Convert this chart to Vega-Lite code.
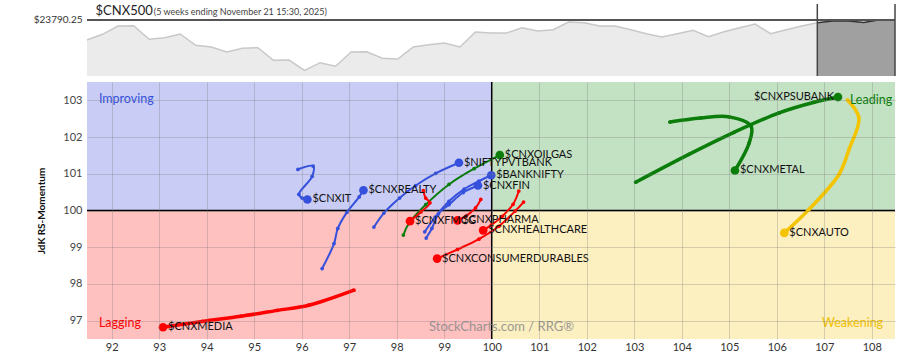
{
  "$schema": "https://vega.github.io/schema/vega-lite/v6.json",
  "padding": {"left": 33, "top": 3, "right": 8, "bottom": 0},
  "spacing": 6,
  "bounds": "flush",
  "config": {"view": {"stroke": null}, "font": "Lato", "axis": {"labelFont": "Lato", "titleFont": "Lato"}},
  "datasets": {
    "strip": [
      {"i": 0, "v": 22590}, {"i": 1, "v": 22932}, {"i": 2, "v": 23430}, {"i": 3, "v": 23448}, {"i": 4, "v": 22632},
      {"i": 5, "v": 22728}, {"i": 6, "v": 22950}, {"i": 7, "v": 22272}, {"i": 8, "v": 22170}, {"i": 9, "v": 21870},
      {"i": 10, "v": 22092}, {"i": 11, "v": 22128}, {"i": 12, "v": 21372}, {"i": 13, "v": 21390}, {"i": 14, "v": 20772},
      {"i": 15, "v": 21228}, {"i": 16, "v": 21012}, {"i": 17, "v": 21870}, {"i": 18, "v": 21888}, {"i": 19, "v": 21492},
      {"i": 20, "v": 21450}, {"i": 21, "v": 22170}, {"i": 22, "v": 22308}, {"i": 23, "v": 22410}, {"i": 24, "v": 22170},
      {"i": 25, "v": 23070}, {"i": 26, "v": 23010}, {"i": 27, "v": 23010}, {"i": 28, "v": 23328}, {"i": 29, "v": 23130},
      {"i": 30, "v": 23208}, {"i": 31, "v": 23670}, {"i": 32, "v": 23628}, {"i": 33, "v": 23430}, {"i": 34, "v": 23430},
      {"i": 35, "v": 23208}, {"i": 36, "v": 22968}, {"i": 37, "v": 22770}, {"i": 38, "v": 22968}, {"i": 39, "v": 23172},
      {"i": 40, "v": 22788}, {"i": 41, "v": 23088}, {"i": 42, "v": 23328}, {"i": 43, "v": 23550}, {"i": 44, "v": 22968},
      {"i": 45, "v": 23208}, {"i": 46, "v": 23430}, {"i": 47, "v": 23628}, {"i": 48, "v": 23730}, {"i": 49, "v": 23730},
      {"i": 50, "v": 23640}, {"i": 51, "v": 23800}, {"i": 52, "v": 23790.25}
    ],
    "rrg": [
      {"s": "$CNXIT", "q": "Improving", "t": 0, "x": 95.92, "y": 101.12},
      {"s": "$CNXIT", "q": "Improving", "t": 1, "x": 96.24, "y": 101.21},
      {"s": "$CNXIT", "q": "Improving", "t": 2, "x": 96.22, "y": 100.93},
      {"s": "$CNXIT", "q": "Improving", "t": 3, "x": 95.94, "y": 100.44},
      {"s": "$CNXIT", "q": "Improving", "t": 4, "x": 96.01, "y": 100.34},
      {"s": "$CNXIT", "q": "Improving", "t": 5, "x": 96.12, "y": 100.30},
      {"s": "$CNXREALTY", "q": "Improving", "t": 0, "x": 96.43, "y": 98.42},
      {"s": "$CNXREALTY", "q": "Improving", "t": 1, "x": 96.68, "y": 99.10},
      {"s": "$CNXREALTY", "q": "Improving", "t": 2, "x": 96.76, "y": 99.51},
      {"s": "$CNXREALTY", "q": "Improving", "t": 3, "x": 96.95, "y": 99.95},
      {"s": "$CNXREALTY", "q": "Improving", "t": 4, "x": 97.21, "y": 100.37},
      {"s": "$CNXREALTY", "q": "Improving", "t": 5, "x": 97.30, "y": 100.55},
      {"s": "$NIFTYPVTBANK", "q": "Improving", "t": 0, "x": 97.52, "y": 99.55},
      {"s": "$NIFTYPVTBANK", "q": "Improving", "t": 1, "x": 97.73, "y": 99.93},
      {"s": "$NIFTYPVTBANK", "q": "Improving", "t": 2, "x": 98.06, "y": 100.34},
      {"s": "$NIFTYPVTBANK", "q": "Improving", "t": 3, "x": 98.40, "y": 100.68},
      {"s": "$NIFTYPVTBANK", "q": "Improving", "t": 4, "x": 98.82, "y": 101.01},
      {"s": "$NIFTYPVTBANK", "q": "Improving", "t": 5, "x": 99.31, "y": 101.30},
      {"s": "$CNXOILGAS", "q": "Leading", "t": 0, "x": 98.14, "y": 99.33},
      {"s": "$CNXOILGAS", "q": "Leading", "t": 1, "x": 98.26, "y": 99.66},
      {"s": "$CNXOILGAS", "q": "Leading", "t": 2, "x": 98.61, "y": 100.16},
      {"s": "$CNXOILGAS", "q": "Leading", "t": 3, "x": 99.10, "y": 100.71},
      {"s": "$CNXOILGAS", "q": "Leading", "t": 4, "x": 99.63, "y": 101.14},
      {"s": "$CNXOILGAS", "q": "Leading", "t": 5, "x": 100.17, "y": 101.51},
      {"s": "$BANKNIFTY", "q": "Improving", "t": 0, "x": 98.59, "y": 99.42},
      {"s": "$BANKNIFTY", "q": "Improving", "t": 1, "x": 98.81, "y": 99.82},
      {"s": "$BANKNIFTY", "q": "Improving", "t": 2, "x": 99.10, "y": 100.25},
      {"s": "$BANKNIFTY", "q": "Improving", "t": 3, "x": 99.42, "y": 100.58},
      {"s": "$BANKNIFTY", "q": "Improving", "t": 4, "x": 99.73, "y": 100.80},
      {"s": "$BANKNIFTY", "q": "Improving", "t": 5, "x": 99.99, "y": 100.96},
      {"s": "$CNXFIN", "q": "Improving", "t": 0, "x": 98.62, "y": 99.25},
      {"s": "$CNXFIN", "q": "Improving", "t": 1, "x": 98.74, "y": 99.51},
      {"s": "$CNXFIN", "q": "Improving", "t": 2, "x": 98.88, "y": 99.91},
      {"s": "$CNXFIN", "q": "Improving", "t": 3, "x": 99.10, "y": 100.16},
      {"s": "$CNXFIN", "q": "Improving", "t": 4, "x": 99.40, "y": 100.49},
      {"s": "$CNXFIN", "q": "Improving", "t": 5, "x": 99.71, "y": 100.68},
      {"s": "$CNXFMCG", "q": "Lagging", "t": 0, "x": 98.56, "y": 100.54},
      {"s": "$CNXFMCG", "q": "Lagging", "t": 1, "x": 98.61, "y": 100.34},
      {"s": "$CNXFMCG", "q": "Lagging", "t": 2, "x": 98.70, "y": 100.21},
      {"s": "$CNXFMCG", "q": "Lagging", "t": 3, "x": 98.51, "y": 99.96},
      {"s": "$CNXFMCG", "q": "Lagging", "t": 4, "x": 98.28, "y": 99.71},
      {"s": "$CNXPHARMA", "q": "Lagging", "t": 0, "x": 99.77, "y": 100.30},
      {"s": "$CNXPHARMA", "q": "Lagging", "t": 1, "x": 99.66, "y": 100.07},
      {"s": "$CNXPHARMA", "q": "Lagging", "t": 2, "x": 99.45, "y": 99.84},
      {"s": "$CNXPHARMA", "q": "Lagging", "t": 3, "x": 99.28, "y": 99.73},
      {"s": "$CNXHEALTHCARE", "q": "Lagging", "t": 0, "x": 100.57, "y": 100.53},
      {"s": "$CNXHEALTHCARE", "q": "Lagging", "t": 1, "x": 100.45, "y": 100.17},
      {"s": "$CNXHEALTHCARE", "q": "Lagging", "t": 2, "x": 100.22, "y": 99.84},
      {"s": "$CNXHEALTHCARE", "q": "Lagging", "t": 3, "x": 99.99, "y": 99.60},
      {"s": "$CNXHEALTHCARE", "q": "Lagging", "t": 4, "x": 99.82, "y": 99.46},
      {"s": "$CNXCONSUMERDURABLES", "q": "Lagging", "t": 0, "x": 100.67, "y": 100.23},
      {"s": "$CNXCONSUMERDURABLES", "q": "Lagging", "t": 1, "x": 100.49, "y": 99.98},
      {"s": "$CNXCONSUMERDURABLES", "q": "Lagging", "t": 2, "x": 100.15, "y": 99.57},
      {"s": "$CNXCONSUMERDURABLES", "q": "Lagging", "t": 3, "x": 99.73, "y": 99.22},
      {"s": "$CNXCONSUMERDURABLES", "q": "Lagging", "t": 4, "x": 99.28, "y": 98.94},
      {"s": "$CNXCONSUMERDURABLES", "q": "Lagging", "t": 5, "x": 98.85, "y": 98.69},
      {"s": "$CNXMEDIA", "q": "Lagging", "t": 0, "x": 97.10, "y": 97.83},
      {"s": "$CNXMEDIA", "q": "Lagging", "t": 1, "x": 96.15, "y": 97.42},
      {"s": "$CNXMEDIA", "q": "Lagging", "t": 2, "x": 95.49, "y": 97.28},
      {"s": "$CNXMEDIA", "q": "Lagging", "t": 3, "x": 94.72, "y": 97.12},
      {"s": "$CNXMEDIA", "q": "Lagging", "t": 4, "x": 93.91, "y": 96.98},
      {"s": "$CNXMEDIA", "q": "Lagging", "t": 5, "x": 93.08, "y": 96.82},
      {"s": "$CNXMETAL", "q": "Leading", "t": 0, "x": 103.75, "y": 102.41},
      {"s": "$CNXMETAL", "q": "Leading", "t": 1, "x": 104.40, "y": 102.52},
      {"s": "$CNXMETAL", "q": "Leading", "t": 2, "x": 105.00, "y": 102.55},
      {"s": "$CNXMETAL", "q": "Leading", "t": 3, "x": 105.46, "y": 102.30},
      {"s": "$CNXMETAL", "q": "Leading", "t": 4, "x": 105.42, "y": 101.84},
      {"s": "$CNXMETAL", "q": "Leading", "t": 5, "x": 105.12, "y": 101.09},
      {"s": "$CNXPSUBANK", "q": "Leading", "t": 0, "x": 103.03, "y": 100.77},
      {"s": "$CNXPSUBANK", "q": "Leading", "t": 1, "x": 104.15, "y": 101.53},
      {"s": "$CNXPSUBANK", "q": "Leading", "t": 2, "x": 105.10, "y": 102.13},
      {"s": "$CNXPSUBANK", "q": "Leading", "t": 3, "x": 106.05, "y": 102.66},
      {"s": "$CNXPSUBANK", "q": "Leading", "t": 4, "x": 106.79, "y": 102.95},
      {"s": "$CNXPSUBANK", "q": "Leading", "t": 5, "x": 107.29, "y": 103.09},
      {"s": "$CNXAUTO", "q": "Weakening", "t": 0, "x": 107.49, "y": 103.01},
      {"s": "$CNXAUTO", "q": "Weakening", "t": 1, "x": 107.73, "y": 102.52},
      {"s": "$CNXAUTO", "q": "Weakening", "t": 2, "x": 107.52, "y": 101.66},
      {"s": "$CNXAUTO", "q": "Weakening", "t": 3, "x": 107.31, "y": 100.98},
      {"s": "$CNXAUTO", "q": "Weakening", "t": 4, "x": 106.68, "y": 100.03},
      {"s": "$CNXAUTO", "q": "Weakening", "t": 5, "x": 106.16, "y": 99.39}
    ]
  },
  "vconcat": [
    {
      "width": 808,
      "height": 72,
      "layer": [
        {"data": {"name": "strip"}, "mark": {"type": "area", "color": "#ebebeb", "clip": true},
          "encoding": {
            "x": {"field": "i", "type": "quantitative", "scale": {"domain": [0, 52], "nice": false, "zero": false}, "axis": null},
            "y": {"field": "v", "type": "quantitative", "stack": null, "scale": {"domain": [20430, 24750], "nice": false, "zero": false},
              "axis": {"values": [23790.25], "labelExpr": "'$23790.25'", "ticks": false, "domain": false, "grid": false, "title": null, "labelFontSize": 10, "labelColor": "#333", "labelPadding": 5}},
            "y2": {"datum": 20430}
          }},
        {"data": {"name": "strip"}, "mark": {"type": "line", "color": "#c8c8c8", "strokeWidth": 1.5},
          "encoding": {"x": {"field": "i", "type": "quantitative"}, "y": {"field": "v", "type": "quantitative"}}},
        {"data": {"name": "strip"}, "transform": [{"filter": "datum.i >= 47"}], "mark": {"type": "area", "color": "#a0a0a0", "clip": true},
          "encoding": {"x": {"field": "i", "type": "quantitative"}, "y": {"field": "v", "type": "quantitative", "stack": null}, "y2": {"datum": 20430}}},
        {"data": {"name": "strip"}, "transform": [{"filter": "datum.i >= 47"}], "mark": {"type": "line", "color": "#333333", "strokeWidth": 1.5},
          "encoding": {"x": {"field": "i", "type": "quantitative"}, "y": {"field": "v", "type": "quantitative"}}},
        {"data": {"values": [{}]}, "mark": {"type": "rule", "color": "#555555", "strokeWidth": 2}, "encoding": {"y": {"datum": 23790.25}}},
        {"data": {"values": [{}]}, "mark": {"type": "rule", "color": "#444444", "strokeWidth": 1.5}, "encoding": {"x": {"datum": 47}, "y": {"datum": 24750}, "y2": {"datum": 20430}}},
        {"data": {"values": [{}]}, "mark": {"type": "rule", "color": "#444444", "strokeWidth": 1.5}, "encoding": {"x": {"datum": 52}, "y": {"datum": 24750}, "y2": {"datum": 20430}}},
        {"data": {"values": [{}]}, "mark": {"type": "text", "text": "$CNX500", "align": "left", "baseline": "alphabetic", "fontSize": 13, "color": "#222"},
          "encoding": {"x": {"datum": 0.55}, "y": {"datum": 24090}}},
        {"data": {"values": [{}]}, "mark": {"type": "text", "text": "(5 weeks ending November 21 15:30, 2025)", "align": "left", "baseline": "alphabetic", "fontSize": 9, "color": "#444"},
          "encoding": {"x": {"datum": 4.3}, "y": {"datum": 24110}}}
      ]
    },
    {
      "width": 808,
      "height": 257,
      "layer": [
        {
          "data": {"values": [
            {"q": "Improving", "x0": 91.48, "x1": 100, "y0": 100, "y1": 103.5},
            {"q": "Leading", "x0": 100, "x1": 108.49, "y0": 100, "y1": 103.5},
            {"q": "Weakening", "x0": 100, "x1": 108.49, "y0": 96.5, "y1": 100},
            {"q": "Lagging", "x0": 91.48, "x1": 100, "y0": 96.5, "y1": 100}
          ]},
          "mark": {"type": "rect"},
          "encoding": {
            "x": {"field": "x0", "type": "quantitative", "scale": {"domain": [91.48, 108.49], "nice": false, "zero": false},
              "axis": {"values": [92,93,94,95,96,97,98,99,100,101,102,103,104,105,106,107,108], "title": null, "ticks": false, "domain": false, "grid": true, "gridColor": "#777", "gridOpacity": 0.3, "labelFontSize": 11, "labelColor": "#333", "labelPadding": 2, "zindex": 1}},
            "x2": {"field": "x1"},
            "y": {"field": "y0", "type": "quantitative", "scale": {"domain": [96.5, 103.5], "nice": false, "zero": false},
              "axis": {"values": [97,98,99,100,101,102,103], "title": "JdK RS-Momentum", "titleFontSize": 10, "titleFontWeight": "bold", "titleColor": "#111", "titlePadding": 16, "ticks": false, "domain": false, "grid": true, "gridColor": "#777", "gridOpacity": 0.3, "labelFontSize": 11, "labelColor": "#444", "labelPadding": 5, "zindex": 1}},
            "y2": {"field": "y1"},
            "fill": {"field": "q", "type": "nominal", "legend": null,
              "scale": {"domain": ["Improving", "Leading", "Weakening", "Lagging"], "range": ["#c9cdf5", "#c3e1c3", "#fcefc0", "#ffc0c0"]}}
          }
        },
        {"data": {"values": [{}]}, "mark": {"type": "rule", "color": "#000", "strokeWidth": 1.5}, "encoding": {"x": {"datum": 100}, "y": {"datum": 96.5}, "y2": {"datum": 103.5}}},
        {"data": {"values": [{}]}, "mark": {"type": "rule", "color": "#000", "strokeWidth": 1.5}, "encoding": {"y": {"datum": 100}, "x": {"datum": 91.48}, "x2": {"datum": 108.49}}},
        {
          "data": {"name": "rrg"},
          "transform": [{"filter": "indexof(['$CNXMEDIA','$CNXPSUBANK','$CNXMETAL','$CNXAUTO'], datum.s) < 0"}],
          "mark": {"type": "line", "strokeWidth": 2, "interpolate": "catmull-rom"},
          "encoding": {
            "x": {"field": "x", "type": "quantitative"},
            "y": {"field": "y", "type": "quantitative"},
            "detail": {"field": "s"},
            "order": {"field": "t"},
            "color": {"field": "q", "type": "nominal", "legend": null,
              "scale": {"domain": ["Improving", "Leading", "Weakening", "Lagging"], "range": ["#3550dc", "#0a7d0a", "#f5c400", "#ff0000"]}}
          }
        },
        {
          "data": {"name": "rrg"},
          "transform": [{"filter": "indexof(['$CNXMEDIA','$CNXPSUBANK','$CNXMETAL','$CNXAUTO'], datum.s) >= 0"}],
          "mark": {"type": "line", "strokeWidth": 3.5, "interpolate": "catmull-rom"},
          "encoding": {
            "x": {"field": "x", "type": "quantitative"},
            "y": {"field": "y", "type": "quantitative"},
            "detail": {"field": "s"},
            "order": {"field": "t"},
            "color": {"field": "q", "type": "nominal", "legend": null}
          }
        },
        {
          "data": {"name": "rrg"},
          "mark": {"type": "point", "filled": true, "opacity": 1, "size": 14},
          "encoding": {
            "x": {"field": "x", "type": "quantitative"},
            "y": {"field": "y", "type": "quantitative"},
            "color": {"field": "q", "type": "nominal", "legend": null}
          }
        },
        {
          "data": {"name": "rrg"},
          "transform": [
            {"joinaggregate": [{"op": "max", "field": "t", "as": "tm"}], "groupby": ["s"]},
            {"filter": "datum.t == datum.tm"}
          ],
          "mark": {"type": "point", "filled": true, "opacity": 1, "size": 75},
          "encoding": {
            "x": {"field": "x", "type": "quantitative"},
            "y": {"field": "y", "type": "quantitative"},
            "color": {"field": "q", "type": "nominal", "legend": null}
          }
        },
        {
          "data": {"name": "rrg"},
          "transform": [
            {"joinaggregate": [{"op": "max", "field": "t", "as": "tm"}], "groupby": ["s"]},
            {"filter": "datum.t == datum.tm && datum.s != '$CNXPSUBANK'"}
          ],
          "mark": {"type": "text", "align": "left", "baseline": "middle", "dx": 5, "fontSize": 11, "color": "#111"},
          "encoding": {
            "x": {"field": "x", "type": "quantitative"},
            "y": {"field": "y", "type": "quantitative"},
            "text": {"field": "s"}
          }
        },
        {
          "data": {"name": "rrg"},
          "transform": [
            {"joinaggregate": [{"op": "max", "field": "t", "as": "tm"}], "groupby": ["s"]},
            {"filter": "datum.t == datum.tm && datum.s == '$CNXPSUBANK'"}
          ],
          "mark": {"type": "text", "align": "right", "baseline": "middle", "dx": -4, "fontSize": 11, "color": "#111"},
          "encoding": {
            "x": {"field": "x", "type": "quantitative"},
            "y": {"field": "y", "type": "quantitative"},
            "text": {"field": "s"}
          }
        },
        {"data": {"values": [{}]}, "mark": {"type": "text", "text": "Improving", "align": "left", "baseline": "middle", "fontSize": 12.5, "color": "#3550dc"},
          "encoding": {"x": {"datum": 91.73}, "y": {"datum": 103.04}}},
        {"data": {"values": [{}]}, "mark": {"type": "text", "text": "Leading", "align": "right", "baseline": "middle", "fontSize": 12.5, "color": "#0a7d0a"},
          "encoding": {"x": {"datum": 108.43}, "y": {"datum": 103.02}}},
        {"data": {"values": [{}]}, "mark": {"type": "text", "text": "Lagging", "align": "left", "baseline": "middle", "fontSize": 12.5, "color": "#ff0000"},
          "encoding": {"x": {"datum": 91.73}, "y": {"datum": 96.93}}},
        {"data": {"values": [{}]}, "mark": {"type": "text", "text": "Weakening", "align": "right", "baseline": "middle", "fontSize": 12.5, "color": "#f0c000"},
          "encoding": {"x": {"datum": 108.24}, "y": {"datum": 96.93}}},
        {"data": {"values": [{}]}, "mark": {"type": "text", "text": "StockCharts.com / RRG®", "align": "left", "baseline": "middle", "fontSize": 13, "color": "#8a8a8a", "opacity": 0.85},
          "encoding": {"x": {"datum": 98.68}, "y": {"datum": 96.82}}}
      ]
    }
  ]
}
